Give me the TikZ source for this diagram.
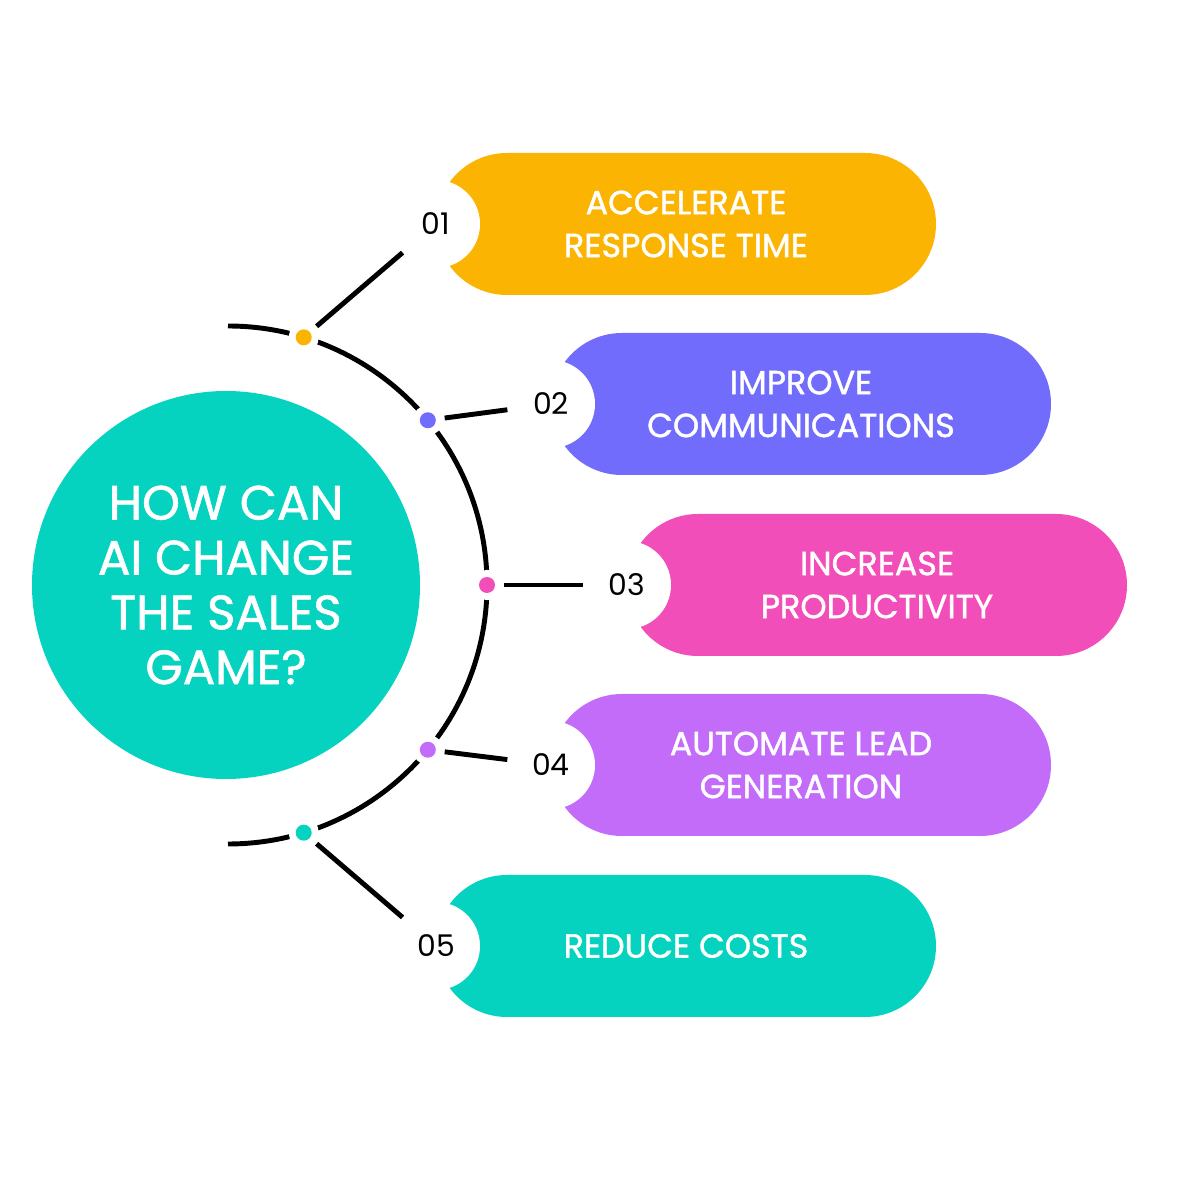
\documentclass[tikz,border=0pt]{standalone}
\usepackage{fontspec}
\setmainfont{Poppins}
\newfontfamily\pillfont{Poppins}[FakeBold=1.3]
\usetikzlibrary{positioning}
\definecolor{pillyellow}{RGB}{251,180,2}
\definecolor{pillblue}{RGB}{113,108,251}
\definecolor{pillpink}{RGB}{242,78,185}
\definecolor{pillpurple}{RGB}{195,108,249}
\definecolor{pillteal}{RGB}{5,211,191}
\tikzset{
  pill/.style={
    rectangle,
    rounded corners=0.71cm,
    minimum width=5cm,
    minimum height=1.42cm,
    outer sep=0pt,
    text=white,
    align=center,
    font=\pillfont\fontsize{9.5}{12.2}\selectfont
  },
  num/.style={
    circle,
    fill=white,
    minimum size=0.88cm,
    inner sep=0pt,
    outer sep=0pt,
    font=\fontsize{8.5}{10}\selectfont
  },
  dot/.style={
    circle,
    minimum size=0.16cm,
    inner sep=0pt,
    outer sep=0.09cm,
    preaction={fill=white, draw=white, line width=0.14cm}
  },
  hub/.style={
    circle,
    fill=pillteal,
    minimum size=3.88cm,
    text=white,
    align=center,
    font=\pillfont\fontsize{13.7}{15.6}\selectfont
  },
  link/.style={line width=1.4pt, black}
}

\begin{document}
\begin{tikzpicture}
    \fill[white] (0,0) rectangle (12,12);
    \useasboundingbox (0,0) rectangle (12,12);

    \node[hub] (hub) at (2.26,6.15) {HOW CAN\\AI CHANGE\\THE SALES\\GAME?};
    \coordinate (ac) at (2.28,6.15);
    \draw[link] ([shift={(90:2.59)}]ac) arc[start angle=90, end angle=-90, radius=2.59];

    \node[pill, fill=pillyellow] (p1) at (6.86,9.76) {ACCELERATE\\RESPONSE TIME};
    \node[pill, fill=pillblue] (p2) at (8.01,7.96) {IMPROVE\\COMMUNICATIONS};
    \node[pill, fill=pillpink] (p3) at (8.77,6.15) {INCREASE\\PRODUCTIVITY};
    \node[pill, fill=pillpurple] (p4) at (8.01,4.35) {AUTOMATE LEAD\\GENERATION};
    \node[pill, fill=pillteal] (p5) at (6.86,2.54) {REDUCE COSTS};

    \node[num] (n1) at (p1.west) {01};
    \node[num] (n2) at (p2.west) {02};
    \node[num] (n3) at (p3.west) {03};
    \node[num] (n4) at (p4.west) {04};
    \node[num] (n5) at (p5.west) {05};

    \node[dot, fill=pillyellow] (d1) at ([shift={(73:2.59)}]ac) {};
    \node[dot, fill=pillblue] (d2) at ([shift={(39.5:2.59)}]ac) {};
    \node[dot, fill=pillpink] (d3) at ([shift={(0:2.59)}]ac) {};
    \node[dot, fill=pillpurple] (d4) at ([shift={(-39.5:2.59)}]ac) {};
    \node[dot, fill=pillteal] (d5) at ([shift={(-73:2.59)}]ac) {};

    \draw[link] (d1) -- (n1);
    \draw[link] (d2) -- (n2);
    \draw[link] (d3) -- (n3);
    \draw[link] (d4) -- (n4);
    \draw[link] (d5) -- (n5);
\end{tikzpicture}
\end{document}
